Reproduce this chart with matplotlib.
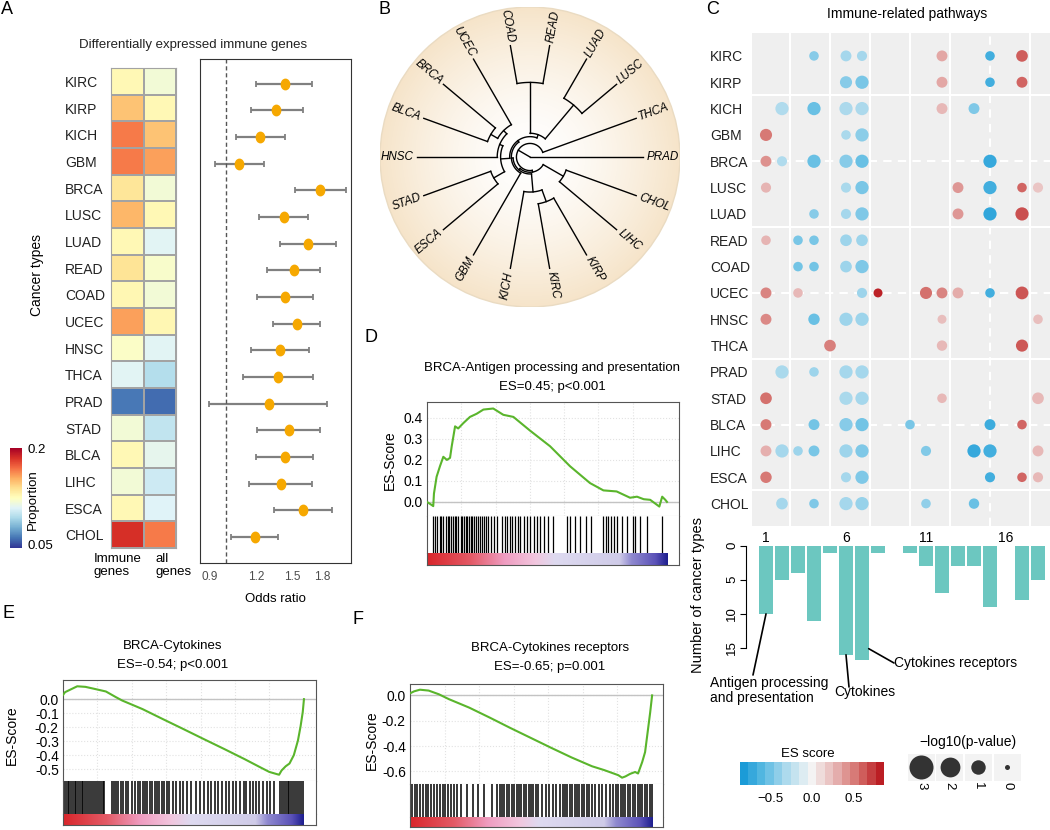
import numpy as np
import matplotlib
matplotlib.use("agg")
import matplotlib.pyplot as plt
from matplotlib.colors import LinearSegmentedColormap, Normalize
from matplotlib.cm import ScalarMappable
from matplotlib.patches import Circle, Rectangle
from matplotlib.path import Path
from matplotlib.transforms import Affine2D
from matplotlib.ticker import NullLocator

plt.rcParams["font.family"] = ["Liberation Sans", "DejaVu Sans"]

W, H = 1050, 830

# ---------------- data ----------------
cancer_types = ["KIRC", "KIRP", "KICH", "GBM", "BRCA", "LUSC", "LUAD", "READ", "COAD",
                "UCEC", "HNSC", "THCA", "PRAD", "STAD", "BLCA", "LIHC", "ESCA", "CHOL"]

# A: proportion of differentially expressed genes
prop_immune = [0.128, 0.149, 0.167, 0.167, 0.137, 0.152, 0.128, 0.138, 0.129,
               0.158, 0.123, 0.111, 0.066, 0.119, 0.128, 0.119, 0.128, 0.185]
prop_all = [0.119, 0.128, 0.149, 0.158, 0.119, 0.128, 0.111, 0.122, 0.119,
            0.129, 0.111, 0.098, 0.063, 0.101, 0.113, 0.105, 0.110, 0.167]

# A: odds ratios with confidence interval
or_est = [1.43, 1.36, 1.23, 1.08, 1.78, 1.42, 1.65, 1.51, 1.43,
          1.54, 1.39, 1.37, 1.30, 1.47, 1.43, 1.40, 1.60, 1.19]
or_low = [1.20, 1.16, 1.06, 0.93, 1.52, 1.22, 1.39, 1.28, 1.21,
          1.33, 1.16, 1.11, 0.90, 1.21, 1.20, 1.15, 1.34, 1.03]
or_high = [1.69, 1.60, 1.43, 1.26, 2.09, 1.65, 1.96, 1.78, 1.70,
           1.78, 1.66, 1.70, 1.86, 1.78, 1.70, 1.69, 1.91, 1.37]

# B: circular dendrogram, leaves counter-clockwise from 3 o'clock
tree_leaves = ["PRAD", "THCA", "LUSC", "LUAD", "READ", "COAD", "UCEC", "BRCA", "BLCA",
               "HNSC", "STAD", "ESCA", "GBM", "KICH", "KIRC", "KIRP", "LIHC", "CHOL"]
tree = (0.0, ["PRAD", (0.12, ["THCA", (0.135, [(0.15, [(0.165, [(0.18, [
    (0.21, [(0.6, ["LUSC", "LUAD"]), (0.66, ["READ", "COAD"])]),
    (0.26, [(0.29, [(0.33, ["UCEC", (0.40, ["BRCA", "BLCA"])]), "HNSC"]),
            (0.37, ["STAD", "ESCA"])])]), "GBM"]),
    (0.31, ["KICH", (0.42, ["KIRC", "KIRP"])])]),
    (0.34, ["LIHC", "CHOL"])])])])

# C: enriched pathways per cancer type
dots_per_row = [6, 5, 6, 3, 6, 7, 6, 5, 4, 9, 6, 3, 4, 5, 7, 10, 6, 6]
dot_pathway = [4, 6, 7, 12, 15, 17,                 # KIRC
               6, 7, 12, 15, 17,                    # KIRP
               2, 4, 6, 7, 12, 14,                  # KICH
               1, 6, 7,                             # GBM
               1, 2, 4, 6, 7, 15,                   # BRCA
               1, 6, 7, 13, 15, 17, 18,             # LUSC
               4, 6, 7, 13, 15, 17,                 # LUAD
               1, 3, 4, 6, 7,                       # READ
               3, 4, 6, 7,                          # COAD
               1, 3, 7, 8, 11, 12, 13, 15, 17,      # UCEC
               1, 4, 6, 7, 12, 18,                  # HNSC
               5, 12, 17,                           # THCA
               2, 4, 6, 7,                          # PRAD
               1, 6, 7, 12, 18,                     # STAD
               1, 4, 6, 7, 10, 15, 17,              # BLCA
               1, 2, 3, 4, 6, 7, 11, 14, 15, 18,    # LIHC
               1, 6, 7, 15, 17, 18,                 # ESCA
               2, 4, 6, 7, 11, 14]                  # CHOL
dot_es = [-0.45, -0.35, -0.35, 0.35, -0.70, 0.65,
          -0.45, -0.50, 0.35, -0.70, 0.62,
          -0.30, -0.55, -0.32, -0.32, 0.28, -0.48,
          0.55, -0.33, -0.44,
          0.45, -0.30, -0.55, -0.45, -0.55, -0.75,
          0.30, -0.33, -0.50, 0.42, -0.70, 0.62, 0.22,
          -0.45, -0.35, -0.48, 0.42, -0.77, 0.70,
          0.30, -0.50, -0.50, -0.38, -0.38,
          -0.52, -0.52, -0.38, -0.48,
          0.50, 0.28, -0.38, 0.85, 0.58, 0.50, 0.33, -0.70, 0.68,
          0.48, -0.55, -0.38, -0.38, 0.25, 0.25,
          0.52, 0.28, 0.67,
          -0.33, -0.38, -0.35, -0.35,
          0.58, -0.33, -0.35, 0.28, 0.28,
          0.55, -0.52, -0.45, -0.52, -0.50, -0.72, 0.62,
          0.32, -0.35, -0.38, -0.50, -0.38, -0.48, -0.47, -0.75, -0.70, 0.28,
          0.55, -0.35, -0.48, -0.70, 0.62, 0.28,
          -0.35, -0.48, -0.35, -0.40, -0.42, -0.55]
dot_logp = [1.5, 2.0, 1.7, 2.0, 1.5, 2.3,
            2.5, 3.0, 2.0, 1.5, 2.0,
            3.0, 3.0, 3.0, 3.0, 2.0, 2.0,
            2.5, 1.5, 3.0,
            2.0, 1.7, 3.0, 3.0, 3.0, 3.0,
            1.7, 1.7, 3.0, 2.0, 3.0, 1.5, 1.7,
            1.5, 1.7, 3.0, 2.0, 3.0, 3.0,
            1.5, 1.5, 1.5, 2.3, 2.3,
            1.5, 1.5, 2.3, 3.0,
            2.0, 1.5, 1.7, 1.3, 2.5, 2.0, 2.0, 1.5, 2.8,
            2.0, 2.2, 3.0, 3.0, 1.3, 1.5,
            2.3, 1.8, 2.5,
            3.0, 1.5, 3.0, 3.0,
            2.3, 3.0, 3.0, 1.5, 2.3,
            2.0, 2.0, 3.0, 3.0, 1.5, 2.0, 1.5,
            2.0, 3.0, 1.5, 2.0, 3.0, 3.0, 1.7, 3.0, 3.0, 2.0,
            2.2, 1.7, 3.0, 1.7, 1.5, 1.7,
            2.3, 1.5, 3.0, 3.0, 1.5, 1.8]
pathways = list(range(1, 19))
pathway_ticks = [1, 6, 11, 16]
legend_logp = [3, 2, 1, 0]

# D/E/F: running enrichment scores (rank in % of ranked list)
d_rank = [0, 2.0, 2.6, 2.9, 4.0, 5.4, 6.8, 8.3, 9.6, 10.3, 11.7, 13.0, 15.1, 17.9, 20.7,
          23.5, 27.6, 31.8, 36.0, 42.9, 51.3, 59.6, 67.9, 73.5, 79.0, 84.6, 87.5, 90.3,
          93.0, 96.8, 98.0, 99.3, 100]
d_es = [0, -0.015, -0.02, 0.04, 0.12, 0.17, 0.215, 0.20, 0.21, 0.265, 0.36, 0.35, 0.375,
        0.405, 0.42, 0.44, 0.445, 0.415, 0.405, 0.34, 0.265, 0.17, 0.09, 0.055, 0.05, 0.02,
        0.025, 0.013, 0.01, -0.022, 0.025, 0.01, 0.0]
d_hits = [2.5, 3.3, 4.2, 5.4, 5.8, 6.7, 7.9, 8.8, 9.2, 10.0, 10.8, 11.7, 12.1, 12.9, 14.2,
          14.6, 15.4, 16.3, 16.7, 17.5, 18.3, 18.8, 19.6, 20.4, 21.3, 22.1, 22.9, 23.8, 24.6,
          25.4, 26.7, 27.9, 29.2, 31.3, 32.5, 33.3, 34.6, 35.4, 36.7, 37.9, 38.8, 40.4, 41.7,
          42.9, 44.6, 45.8, 47.1, 48.8, 50.4, 52.5, 58.3, 59.6, 61.7, 63.8, 66.3, 68.3, 73.3,
          74.6, 75.4, 76.7, 77.9, 79.2, 81.3, 83.3, 85.8, 86.7, 88.8, 91.7, 97.9]

e_rank = [0, 0.85, 5.9, 9.3, 12.7, 17.8, 22.0, 24.6, 33.0, 41.5, 50.0, 58.5, 67.0, 75.4,
          82.2, 85.6, 89.0, 89.7, 90.7, 92.4, 94.0, 95.8, 97.5, 98.6, 99.5, 100]
e_es = [0.03, 0.05, 0.092, 0.088, 0.075, 0.055, 0.014, -0.01, -0.071, -0.143, -0.214,
        -0.286, -0.357, -0.429, -0.49, -0.52, -0.537, -0.54, -0.51, -0.48, -0.46, -0.40,
        -0.296, -0.194, -0.092, 0.0]
e_hits = [0.5, 1.2, 2.0, 2.6, 3.3, 4.0, 4.8, 5.5, 6.2, 7.0, 7.8, 8.5, 9.3, 10.0, 10.8, 11.6,
          12.4, 13.2, 14.0, 14.8, 15.6, 16.4, 17.2, 20.5, 21.2, 22.0, 23.0, 24.0, 25.0, 26.0,
          27.0, 28.5, 30.0, 31.2, 32.0, 33.0, 34.0, 35.0, 36.0, 37.0, 38.0, 39.0, 40.0, 41.0,
          42.0, 43.0, 44.0, 45.5, 47.0, 48.5, 50.0, 51.5, 53.0, 55.0, 57.0, 58.5, 60.0, 61.5,
          63.0, 64.5, 66.0, 67.5, 69.0, 70.5, 72.0, 73.5, 75.0, 76.0, 77.5, 79.0, 80.0, 81.5,
          83.0, 84.5, 86.0, 87.5, 90.0, 90.8, 91.6, 92.4, 93.2, 94.0, 94.8, 95.6, 96.4, 97.2,
          98.0, 98.8, 99.6]

f_rank = [0, 1.7, 4.1, 7.7, 11.9, 16.1, 24.5, 33.1, 41.3, 49.8, 58.3, 66.7, 75.2, 80.2,
          86.0, 87.6, 89.0, 90.9, 93.0, 94.2, 95.9, 97.1, 98.3, 99.2, 100]
f_es = [0.016, 0.032, 0.045, 0.038, 0.009, -0.03, -0.097, -0.177, -0.256, -0.335, -0.414,
        -0.49, -0.56, -0.59, -0.63, -0.65, -0.64, -0.62, -0.605, -0.617, -0.527, -0.448,
        -0.269, -0.135, 0.0]
f_hits = [1.0, 2.0, 3.0, 4.2, 5.5, 6.5, 7.5, 8.8, 10.0, 11.0, 12.3, 13.5, 14.5, 15.5, 16.8,
          18.0, 19.5, 21.0, 23.5, 26.0, 28.0, 30.5, 34.0, 36.0, 37.0, 38.0, 39.0, 40.0, 41.0,
          42.0, 43.0, 44.0, 45.0, 46.0, 47.0, 48.0, 49.0, 50.0, 51.0, 52.0, 53.0, 54.5, 56.0,
          57.5, 59.0, 60.5, 62.0, 63.0, 64.0, 65.0, 66.0, 67.0, 68.0, 69.0, 70.0, 71.0, 72.0,
          73.0, 74.0, 75.0, 76.5, 78.0, 79.5, 81.0, 82.5, 84.0, 85.0, 86.0, 87.0, 88.0, 89.0,
          90.0, 91.0, 92.0, 93.0, 94.0, 95.0, 96.0, 97.0, 98.0, 99.0, 100.0]

strip_pos = [0, 0.18, 0.32, 0.45, 0.53, 0.80, 0.85, 0.95, 1.0]
strip_cols = ["#d9262b", "#e35a66", "#ef9cc0", "#f2c6de", "#dedaf0", "#cfcbe8",
              "#8f89cf", "#5b52b8", "#1f1f8f"]
grid_x = [14.3, 28.6, 42.9, 57.1, 71.4, 85.7]

# ---------------- helpers ----------------
fig = plt.figure(figsize=(W / 100, H / 100), dpi=100)


def px_axes(x0, y0, x1, y1):
    return fig.add_axes([x0 / W, 1 - y1 / H, (x1 - x0) / W, (y1 - y0) / H])


def ftext(x, y, s, **kw):
    return fig.text(x / W, 1 - y / H, s, **kw)


def panel_letter(x, y, s):
    ftext(x, y, s, fontsize=13, ha="center", va="center")


es_norm = Normalize(-0.86, 0.87)
es_cmap = LinearSegmentedColormap.from_list("es", [
    (0.0, "#1b9bd7"), (0.15, "#5cbbe2"), (0.30, "#a8d8ec"), (0.497, "#f4f4f4"),
    (0.67, "#e6b4b3"), (0.84, "#d46f6b"), (1.0, "#bb1e24")])
strip_cmap = LinearSegmentedColormap.from_list("rank", list(zip(strip_pos, strip_cols)))

# ---------------- A ----------------
panel_letter(7, 10, "A")
ftext(193, 45, "Differentially expressed immune genes", fontsize=9.5, ha="center", va="center",
      color="#222222")

hm = px_axes(111, 68, 176, 548)
hm.pcolormesh(np.arange(3), np.arange(len(cancer_types) + 1),
              np.column_stack([prop_immune, prop_all]), cmap="RdYlBu_r", vmin=0.05, vmax=0.2,
              edgecolors="#a3a3a3", linewidth=1.2)
hm.set_xlim(0, 2)
hm.set_ylim(len(cancer_types), 0)
hm.set_yticks(np.arange(len(cancer_types)) + 0.5)
hm.set_yticklabels(cancer_types, ha="left", fontsize=10, color="#222222")
hm.tick_params(axis="y", length=0, pad=33)
hm.set_xticks([])
for s in hm.spines.values():
    s.set_color("#a3a3a3")
ftext(94, 553, "Immune\ngenes", fontsize=9.5, ha="left", va="top", linespacing=1.15)
ftext(155, 553, "all\ngenes", fontsize=9.5, ha="left", va="top", linespacing=1.15)
ftext(37, 275, "Cancer types", fontsize=10, rotation=90, ha="center", va="center")

pcb = px_axes(10, 448, 22, 548)
cb = fig.colorbar(ScalarMappable(norm=Normalize(0.05, 0.2), cmap="RdYlBu_r"), cax=pcb)
cb.set_ticks([])
cb.outline.set_visible(False)
ftext(27, 450, "0.2", fontsize=9.5, ha="left", va="center")
ftext(27, 546, "0.05", fontsize=9.5, ha="left", va="center")
ftext(33, 500, "Proportion", fontsize=9.5, rotation=90, ha="center", va="center")

fp = px_axes(200, 59, 351, 563)
rows = np.arange(len(cancer_types))
fp.set_xscale("log")
fp.errorbar(or_est, rows, xerr=[np.subtract(or_est, or_low), np.subtract(or_high, or_est)],
            fmt="none", ecolor="#808080", elinewidth=1.6, capsize=2.3, capthick=1.3)
ellipse = Path.unit_circle().transformed(Affine2D().scale(0.8, 1.0))
fp.plot(or_est, rows, ls="none", marker=ellipse, ms=7.5, color="#f6a800", zorder=3)
fp.axvline(1, color="#555555", lw=1, ls=(0, (3, 2)))
fp.set_xlim(0.85, 2.15)
fp.set_ylim(17.97, -0.93)
fp.set_xticks([0.9, 1.2, 1.5, 1.8])
fp.set_xticklabels(["0.9", "1.2", "1.5", "1.8"], fontsize=8.5, color="#4d4d4d")
fp.xaxis.set_minor_locator(NullLocator())
fp.set_yticks([])
fp.tick_params(axis="x", length=0, pad=6)
fp.set_xlabel("Odds ratio", fontsize=9.5, labelpad=7)
for s in fp.spines.values():
    s.set_color("#333333")

# ---------------- B ----------------
panel_letter(385, 10, "B")
R_DISK = 1.327
bx = px_axes(380, 7, 680, 307)
bx.set_xlim(-R_DISK, R_DISK)
bx.set_ylim(-R_DISK, R_DISK)
bx.set_aspect("equal")
bx.axis("off")
g = np.linspace(-R_DISK, R_DISK, 300)
gx, gy = np.meshgrid(g, g)
t = np.clip(np.hypot(gx, gy) / R_DISK, 0, 1) ** 1.5
beige = np.array([0.965, 0.895, 0.79])
img = (1 - t)[..., None] * np.ones(3) + t[..., None] * beige
disk = Circle((0, 0), R_DISK, transform=bx.transData, facecolor="none", edgecolor="#eadbc2", lw=1)
im = bx.imshow(img, extent=(-R_DISK, R_DISK, -R_DISK, R_DISK), origin="lower")
im.set_clip_path(disk)
bx.add_patch(disk)

leaf_angle = {name: np.deg2rad(20 * i) for i, name in enumerate(tree_leaves)}


def draw_node(node):
    if isinstance(node, str):
        return leaf_angle[node], 1.0
    r, kids = node
    angs = []
    for k in kids:
        a, rk = draw_node(k)
        bx.plot([r * np.cos(a), rk * np.cos(a)], [r * np.sin(a), rk * np.sin(a)],
                color="black", lw=1)
        angs.append(a)
    arc = np.linspace(min(angs), max(angs), 60)
    bx.plot(r * np.cos(arc), r * np.sin(arc), color="black", lw=1)
    return (min(angs) + max(angs)) / 2, r


draw_node(tree)
for name, a in leaf_angle.items():
    deg = np.rad2deg(a)
    if 90 < deg < 270:
        rot, ha = deg - 180, "right"
    else:
        rot, ha = deg, "left"
    bx.text(1.03 * np.cos(a), 1.03 * np.sin(a), name, rotation=rot, ha=ha, va="center",
            rotation_mode="anchor", fontsize=8.4, style="italic")

# ---------------- C ----------------
panel_letter(713, 9, "C")
ftext(907, 14, "Immune-related pathways", fontsize=10, ha="center", va="center")
cx = px_axes(752, 33, 1050, 526)
cx.set_facecolor("#efefef")
cx.set_xlim(0.125, 18.75)
cx.set_ylim(17.85, -0.87)
for v in [2.5, 5, 7.5, 10, 12.5, 17.5]:
    cx.axvline(v, color="white", lw=1.5)
cx.axvline(15, color="white", lw=1.5, ls=(0, (4, 3)))
for v in [1.5, 6.5, 11.5, 16.5]:
    cx.axhline(v, color="white", lw=1.5)
for v in [4, 9, 14]:
    cx.axhline(v, color="white", lw=1.5, ls=(0, (4, 3)))
dot_rows = np.repeat(rows, dots_per_row)
cx.scatter(dot_pathway, dot_rows, s=0.5184 * (7.6 + 55.8 * np.array(dot_logp)), c=dot_es,
           cmap=es_cmap, norm=es_norm, linewidths=0, zorder=3)
cx.set_yticks(rows)
cx.set_yticklabels(cancer_types, ha="left", fontsize=10, color="#222222")
cx.tick_params(axis="y", length=0, pad=30)
cx.set_xticks([])
for s in cx.spines.values():
    s.set_visible(False)

# bars: number of cancer types per pathway
counts = [dot_pathway.count(p) for p in pathways]
ba = px_axes(752, 530, 1050, 660)
ba.bar(pathways, counts, width=0.85, color="#6cc7c0")
ba.set_xlim(0.125, 18.75)
ba.set_ylim(16.76, -2.3)
for s in ["top", "right", "bottom"]:
    ba.spines[s].set_visible(False)
ba.spines["left"].set_position(("outward", 4))
ba.spines["left"].set_bounds(0, 15)
ba.set_yticks([0, 5, 10, 15])
ba.set_yticklabels(["0", "5", "10", "15"], rotation=90, va="center", fontsize=9.5)
ba.tick_params(axis="y", length=4, pad=2)
ba.set_xticks([])
ba.patch.set_alpha(0)
for p in pathway_ticks:
    ba.text(p, -1.1, str(p), ha="center", va="center", fontsize=10)
ftext(698, 595, "Number of cancer types", fontsize=10.5, rotation=90, ha="center", va="center")


def leader(xy, px, py):
    ba.annotate("", xy=xy, xytext=(px / W, 1 - py / H), textcoords="figure fraction",
                arrowprops=dict(arrowstyle="-", color="black", lw=1.2, shrinkA=0, shrinkB=0))


leader((pathways[0], counts[0]), 753, 675)
leader((pathways[5], counts[5]), 849, 687)
leader((pathways[6] + 0.42, counts[6] - 1.9), 894, 663)
ftext(710, 676, "Antigen processing\nand presentation", fontsize=10, ha="left", va="top",
      linespacing=1.1)
ftext(834, 692, "Cytokines", fontsize=10, ha="left", va="center")
ftext(894, 663, "Cytokines receptors", fontsize=10, ha="left", va="center")

# legends
ftext(808, 754, "ES score", fontsize=9.5, ha="center", va="center")
lx = px_axes(740, 762, 884, 785)
lcb = fig.colorbar(ScalarMappable(norm=es_norm, cmap=es_cmap.resampled(17)), cax=lx,
                   orientation="horizontal")
lcb.outline.set_visible(False)
lcb.set_ticks([-0.5, 0.0, 0.5])
lcb.set_ticklabels(["\u22120.5", "0.0", "0.5"])
lx.tick_params(length=0, pad=6, labelsize=9.5)

pa = px_axes(900, 730, 1050, 800)
pa.set_xlim(900, 1050)
pa.set_ylim(800, 730)
pa.axis("off")
pa.text(968, 742, "\u2212log10(p-value)", fontsize=10, ha="center", va="center")
for i, v in enumerate(legend_logp):
    kx = 921 + 28.7 * i
    pa.add_patch(Rectangle((kx - 13.5, 753.5), 27, 27, color="#f3f3f3", lw=0))
    pa.scatter([kx], [767], s=0.5184 * (25 + 184 * v), color="#333333", linewidths=0)
    pa.text(kx, 782, str(v), rotation=-90, ha="center", va="top", fontsize=9.5)


# ---------------- D / E / F ----------------
def gsea(x0, y0, x1, y_div, y_strip, y1, rank, es, hits, ylim, yticks, xmax, hit_lw):
    ac = px_axes(x0, y0, x1, y_div)
    ac.plot(rank, es, color="#5ab52c", lw=1.5, zorder=3)
    ac.axhline(0, color="#c3c3c3", lw=1)
    ac.set_xlim(0, xmax)
    ac.set_ylim(*ylim)
    ac.set_xticks(grid_x)
    ac.set_yticks(yticks)
    ac.set_yticklabels([f"{v:.1f}" for v in yticks], fontsize=10)
    ac.grid(True, color="#e2e2e2", ls=":", lw=0.8)
    ac.tick_params(axis="x", length=0, labelbottom=False)
    ac.tick_params(axis="y", length=0, pad=3)
    for s in ["top", "left", "right"]:
        ac.spines[s].set_color("#555555")
    ac.spines["bottom"].set_color("#c3c3c3")

    ah = px_axes(x0, y_div, x1, y_strip)
    ah.vlines(hits, 0, 1, color="black", lw=hit_lw)
    ah.set_xlim(0, xmax)
    ah.set_ylim(0, 1)
    ah.set_xticks([])
    ah.set_yticks([])
    ah.spines["top"].set_visible(False)
    ah.spines["bottom"].set_visible(False)
    for s in ["left", "right"]:
        ah.spines[s].set_color("#555555")

    ast = px_axes(x0, y_strip, x1, y1)
    ast.imshow(np.linspace(0, 1, 256)[None, :], extent=(0, 100, 0, 1), aspect="auto",
               cmap=strip_cmap)
    ast.set_xlim(0, xmax)
    ast.set_ylim(0, 1)
    ast.set_xticks([])
    ast.set_yticks([])
    ast.spines["top"].set_visible(False)
    for s in ["left", "right", "bottom"]:
        ast.spines[s].set_color("#555555")
    return ac


panel_letter(371, 337, "D")
ftext(552, 368, "BRCA-Antigen processing and presentation", fontsize=9.5, ha="center",
      va="center")
ftext(552, 387, "ES=0.45; p<0.001", fontsize=9.5, ha="center", va="center")
gsea(427, 402, 679, 516, 553, 565, d_rank, d_es, d_hits, (-0.067, 0.476),
     [0.0, 0.1, 0.2, 0.3, 0.4], 105, 0.9)
ftext(390, 460, "ES-Score", fontsize=10, rotation=90, ha="center", va="center")

panel_letter(9, 614, "E")
ftext(173, 646, "BRCA-Cytokines", fontsize=9.5, ha="center", va="center")
ftext(173, 665, "ES=-0.54; p<0.001", fontsize=9.5, ha="center", va="center")
gsea(63, 680, 316, 781, 814, 825, e_rank, e_es, e_hits, (-0.585, 0.137),
     [0.0, -0.1, -0.2, -0.3, -0.4, -0.5], 105, 1.1)
ftext(12, 735, "ES-Score", fontsize=10, rotation=90, ha="center", va="center")

panel_letter(358, 619, "F")
ftext(550, 648, "BRCA-Cytokines receptors", fontsize=9.5, ha="center", va="center")
ftext(550, 667, "ES=-0.65; p=0.001", fontsize=9.5, ha="center", va="center")
gsea(410, 684, 663, 784, 817, 827, f_rank, f_es, f_hits, (-0.70, 0.09),
     [0.0, -0.2, -0.4, -0.6], 104.5, 1.1)
ftext(372, 740, "ES-Score", fontsize=10, rotation=90, ha="center", va="center")

fig.savefig("out.png", dpi=100)
